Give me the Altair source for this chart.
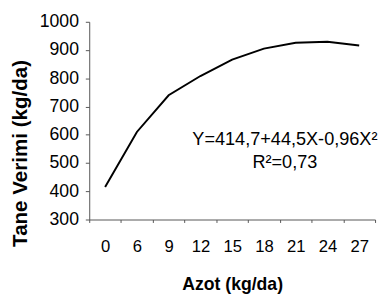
import altair as alt
import pandas as pd

azot = ["0", "6", "9", "12", "15", "18", "21", "24", "27"]
verim = [415, 610, 740, 808, 866, 905, 926, 929, 916]
y_ticks = [300, 400, 500, 600, 700, 800, 900, 1000]

ann_text = ["Y=414,7+44,5X-0,96X²", "R²=0,73"]
ann_x = ["21", "21"]
ann_y = [586, 504]

df = pd.DataFrame({"azot": azot, "verim": verim})
ann = pd.DataFrame({"t": ann_text, "azot": ann_x, "verim": ann_y})

FONT = "Liberation Sans"

xenc = alt.X(
    "azot:N",
    sort=azot,
    scale=alt.Scale(domain=azot, paddingInner=0, paddingOuter=0),
    axis=alt.Axis(
        title="Azot (kg/da)",
        labelAngle=0,
        labelFont=FONT,
        labelFontSize=17,
        labelColor="#000",
        labelPadding=17,
        tickBand="extent",
        tickSize=3,
        tickColor="#555",
        domainColor="#555",
        titleFont=FONT,
        titleFontSize=18,
        titleFontWeight="bold",
        titleColor="#000",
        titleY=66,
        titleBaseline="middle",
        grid=False,
    ),
)

yenc = alt.Y(
    "verim:Q",
    scale=alt.Scale(domain=[300, 1000], nice=False, zero=False),
    axis=alt.Axis(
        title="Tane Verimi (kg/da)",
        values=y_ticks,
        format="d",
        labelOverlap=False,
        labelFont=FONT,
        labelFontSize=18,
        labelColor="#000",
        labelPadding=7,
        tickSize=4,
        tickColor="#555",
        domainColor="#555",
        titleFont=FONT,
        titleFontSize=21,
        titleFontWeight="bold",
        titleColor="#000",
        titleX=-70,
        titleY=134,
        titleBaseline="middle",
        grid=False,
    ),
)

line = alt.Chart(df).mark_line(color="#000", strokeWidth=2).encode(x=xenc, y=yenc)

text = alt.Chart(ann).mark_text(
    font=FONT, fontSize=18.5, color="#000", dx=-11, align="center", baseline="middle"
).encode(
    x=xenc,
    y=yenc,
    text="t:N",
)

chart = (
    alt.layer(line, text)
    .properties(
        width=292,
        height=202,
        autosize=alt.AutoSizeParams(type="none"),
        padding={"left": 83, "top": 11, "right": 3, "bottom": 73},
        background="white",
    )
    .configure_view(stroke=None)
)

chart.save("out.html", embed_options={"renderer": "svg", "actions": False})
